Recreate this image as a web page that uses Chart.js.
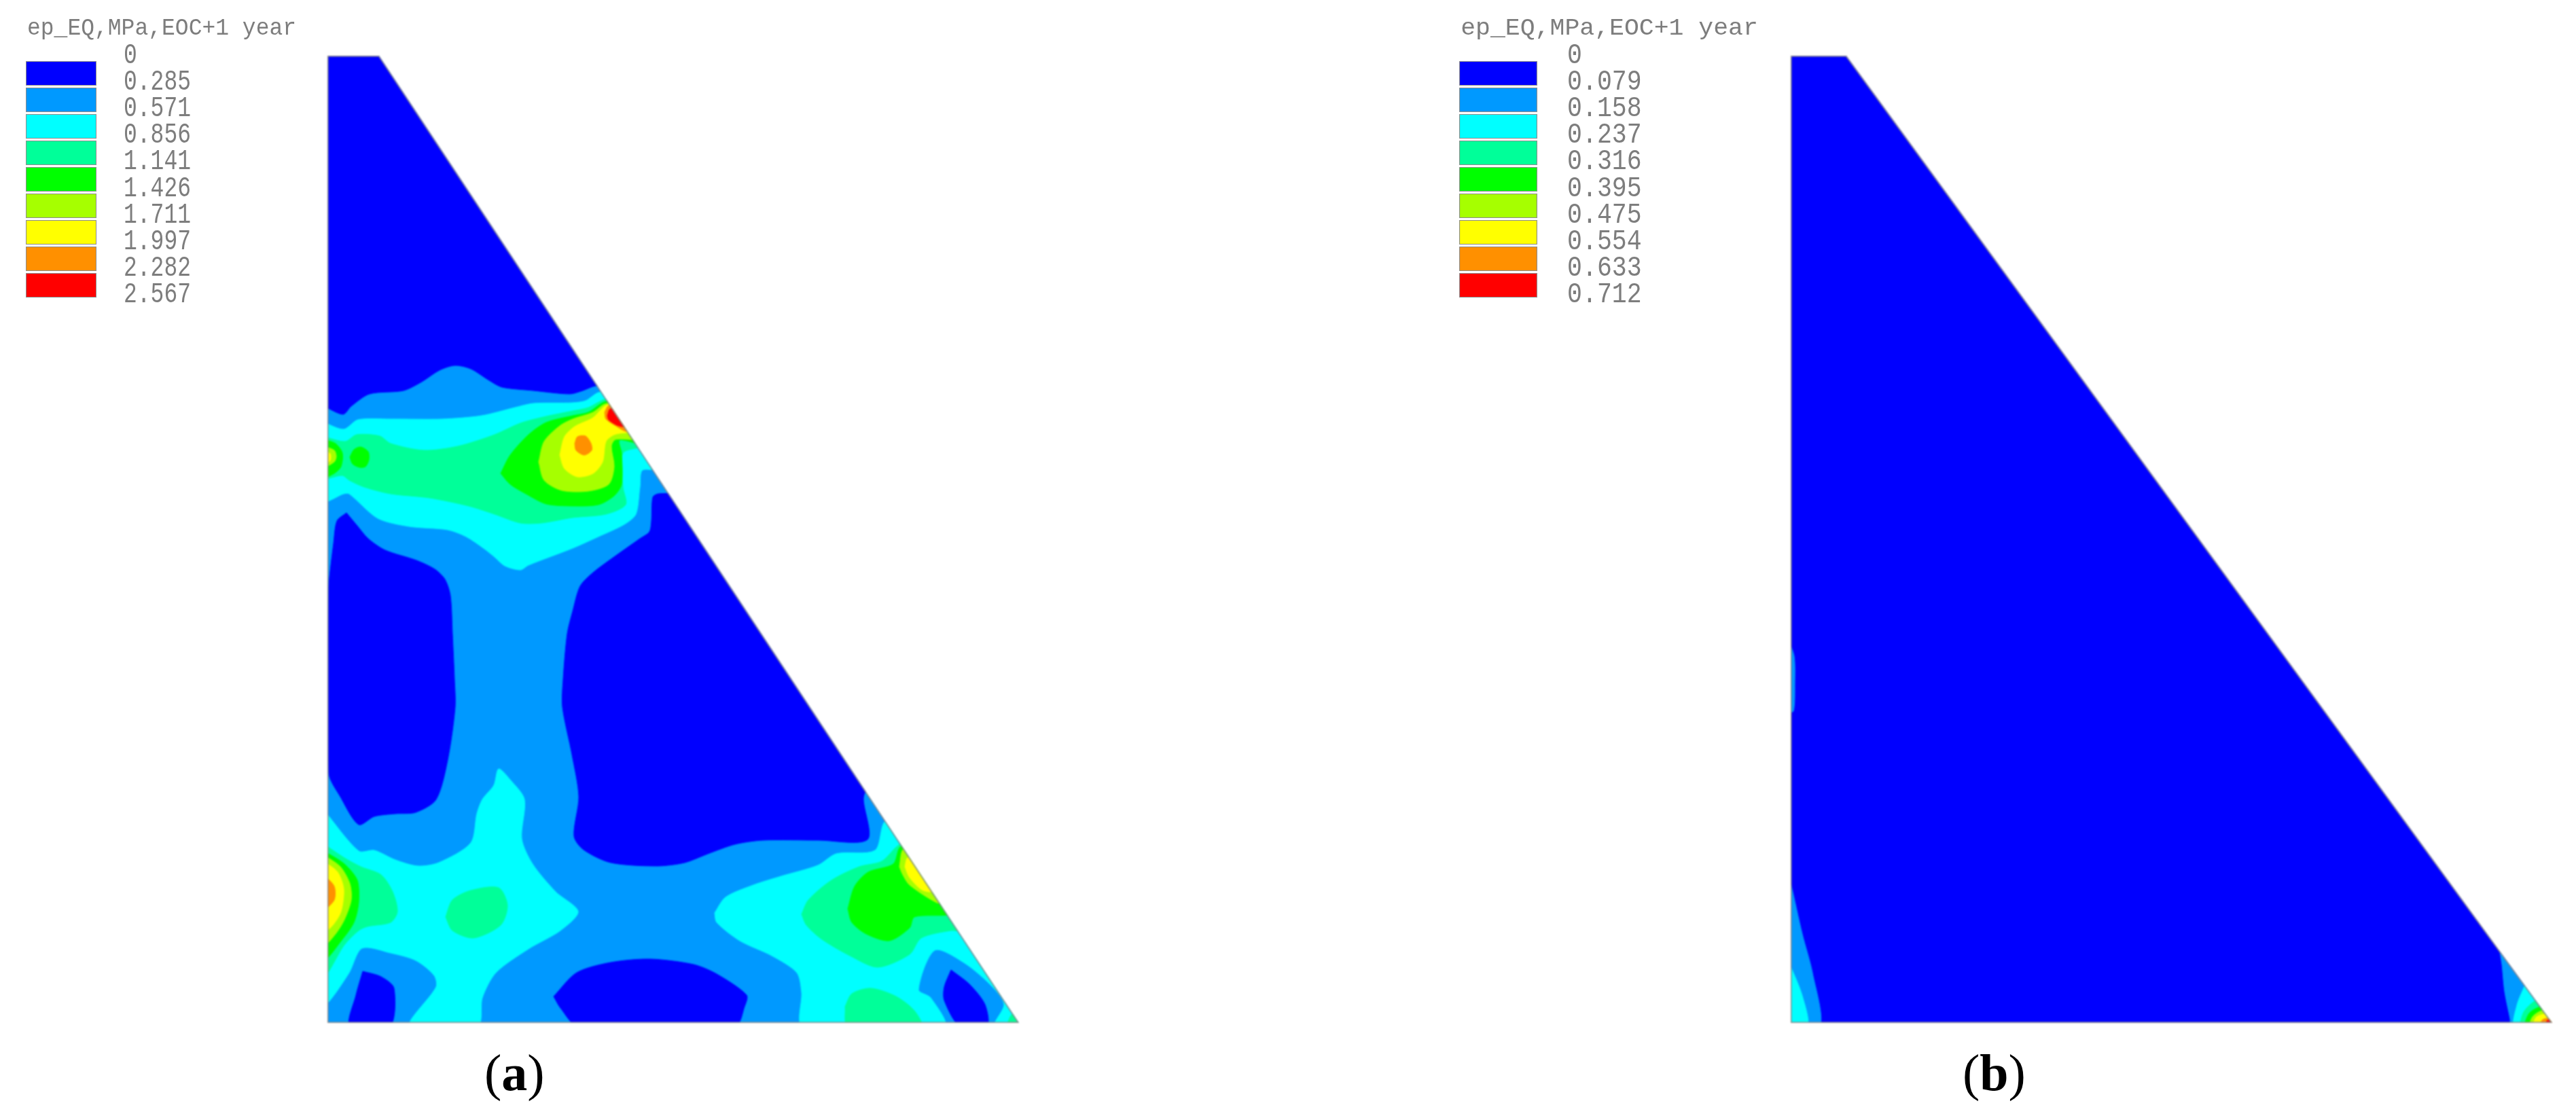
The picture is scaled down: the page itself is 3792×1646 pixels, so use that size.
<!DOCTYPE html>
<html>
<head>
<meta charset="utf-8">
<title>ep_EQ contours</title>
<script src="https://cdn.jsdelivr.net/npm/chart.js@4"></script>
<style>
  html, body { margin: 0; padding: 0; background: #fff; width: 3792px; height: 1646px; overflow: hidden; }
  canvas { position: absolute; top: 0; filter: blur(0.9px); }
  #chartA { left: 0; }
  #chartB { left: 1896px; }
  .key { position: absolute; top: 0; left: 0; width: 600px; height: 470px; transform-origin: 0 0; filter: blur(0.5px); color: #7d7d7d; font-family: "Liberation Mono", monospace; font-size: 33px; }
  #keyA { left: 38px; }
  #keyB { left: 2148px; transform: scaleX(1.105); }
  .keyTitle { position: absolute; left: 2px; top: 22px; line-height: 40px; white-space: pre; transform: scaleY(1.08); transform-origin: 0 50%; }
  .swatch { position: absolute; left: 0; width: 104px; height: 36px; box-sizing: border-box; border: 1.5px solid #8c8c8c; }
  .keyLabel { position: absolute; left: 144px; line-height: 40px; white-space: pre; transform: scaleY(1.28); transform-origin: 0 50%; }
  .caption { position: absolute; top: 1536px; font-family: "Liberation Serif", serif; font-size: 76px; line-height: 86px; color: #000; }
  #capA { left: 713px; }
  #capB { left: 2889px; }
</style>
</head>
<body>
<canvas id="chartA" width="1896" height="1646"></canvas>
<canvas id="chartB" width="1896" height="1646"></canvas>
<div class="key" id="keyA"></div>
<div class="key" id="keyB"></div>
<div class="caption" id="capA">(<b>a</b>)</div>
<div class="caption" id="capB">(<b>b</b>)</div>
<script>
var keyTitle = "ep_EQ,MPa,EOC+1 year";
var keyLabelsA = ["0", "0.285", "0.571", "0.856", "1.141", "1.426", "1.711", "1.997", "2.282", "2.567"];
var keyLabelsB = ["0", "0.079", "0.158", "0.237", "0.316", "0.395", "0.475", "0.554", "0.633", "0.712"];
var levelColors = ["#0000ff", "#0099ff", "#00ffff", "#00ff99", "#00ff00", "#a6ff00", "#ffff00", "#ff9000", "#ff0000"];

// model outlines, units are arbitrary, origin at lower left
var outlineA = [[0, 0], [0, 1424], [76, 1424], [1018, 0], [0, 0]];
var outlineB = [[0, 0], [0, 1424], [82, 1424], [1121, 0], [0, 0]];

// panel (a), contours per level
var aBlueTop = [[-5, 908], [23, 896], [35, 908], [62, 926], [112, 931], [139, 944], [165, 961], [188, 968], [211, 963], [238, 946], [257, 936], [303, 931], [357, 926], [376, 931], [395, 938], [430, 938], [100, 1440], [-5, 1440], [-5, 908]];
var aBlueLeft = [[28, 751], [43, 733], [60, 713], [85, 696], [131, 681], [158, 668], [173, 653], [181, 629], [184, 573], [187, 506], [188, 465], [177, 387], [160, 329], [130, 310], [100, 308], [69, 304], [46, 292], [19, 333], [2, 368], [2, 640], [3, 656], [9, 706], [14, 739], [28, 751]];
var aBlueCentre = [[515, 779], [487, 779], [479, 774], [477, 739], [474, 723], [460, 713], [426, 689], [391, 663], [372, 643], [361, 606], [353, 573], [347, 506], [346, 465], [360, 395], [370, 333], [363, 275], [377, 255], [417, 236], [485, 231], [526, 236], [560, 249], [600, 263], [641, 269], [722, 269], [795, 270], [789, 329], [793, 341], [815, 341], [515, 779]];
var aBlueFoot1 = [[52, 76], [79, 68], [98, 51], [92, -5], [33, -5], [42, 41], [52, 76]];
var aBlueFoot2 = [[333, 39], [367, 74], [417, 89], [475, 94], [539, 86], [573, 72], [617, 41], [614, 24], [600, -5], [369, -5], [343, 22], [333, 39]];
var aBlueFoot3 = [[918, 78], [945, 57], [968, 27], [971, -5], [931, -5], [908, 33], [908, 53], [918, 78]];

var aCyanUpper = [[-5, 884], [24, 874], [45, 888], [93, 889], [169, 889], [227, 894], [276, 906], [303, 912], [361, 913], [380, 916], [399, 928], [425, 928], [505, 814], [464, 814], [460, 789], [454, 749], [437, 734], [399, 716], [361, 699], [296, 674], [284, 667], [261, 673], [246, 686], [231, 698], [204, 716], [177, 726], [120, 731], [74, 743], [32, 779], [24, 779], [-5, 769], [-5, 884]];
var aCyanLowerLeft = [[-5, 313], [46, 253], [69, 254], [100, 240], [133, 231], [164, 236], [211, 265], [220, 308], [228, 329], [245, 350], [252, 374], [269, 358], [290, 329], [286, 271], [302, 234], [336, 193], [369, 164], [343, 136], [296, 109], [248, 74], [228, 37], [221, -5], [121, -5], [160, 53], [157, 70], [130, 92], [93, 103], [51, 110], [32, 74], [2, 31], [-5, 31], [-5, 313]];
var aCyanLowerRight = [[570, 162], [586, 185], [627, 203], [668, 216], [722, 232], [749, 249], [806, 254], [820, 296], [840, 296], [1040, -5], [982, -5], [996, 27], [979, 53], [938, 88], [894, 107], [870, 49], [888, 37], [908, -5], [700, -5], [698, 45], [691, 74], [654, 99], [607, 121], [573, 148], [570, 162]];

var aSpringUpper = [[-5, 863], [26, 856], [43, 866], [77, 864], [93, 853], [142, 843], [192, 849], [246, 866], [284, 883], [322, 893], [361, 901], [384, 906], [408, 918], [430, 918], [470, 853], [435, 839], [435, 789], [439, 763], [410, 749], [361, 744], [315, 736], [284, 736], [246, 749], [208, 761], [150, 773], [93, 779], [54, 789], [32, 799], [22, 806], [-5, 803], [-5, 863]];
var aSpringLeft = [[-5, 263], [25, 243], [49, 230], [79, 218], [96, 193], [103, 164], [93, 148], [59, 142], [46, 136], [25, 115], [-5, 70], [-5, 263]];
var aSpringIsle = [[174, 156], [184, 181], [211, 195], [252, 199], [265, 173], [255, 144], [215, 125], [184, 136], [174, 156]];
var aSpringRight = [[698, 160], [708, 181], [742, 210], [783, 230], [816, 238], [843, 263], [870, 263], [940, 136], [918, 136], [874, 125], [857, 101], [810, 82], [769, 99], [728, 123], [705, 144], [698, 160]];
var aSpringFoot = [[762, 24], [772, 43], [800, 51], [837, 39], [864, 18], [874, -5], [766, -5], [762, 24]];
var aSpringTip = [[999, -5], [1009, 14], [1030, 14], [1030, -5], [999, -5]];

var aGreenBlob = [[33, 833], [39, 844], [49, 848], [60, 841], [61, 829], [56, 819], [47, 818], [37, 823], [33, 833]];
var aGreenEdge = [[-5, 859], [12, 853], [22, 839], [20, 819], [10, 809], [-5, 804], [-5, 859]];
var aGreenMain = [[255, 809], [269, 836], [296, 866], [322, 884], [361, 894], [384, 899], [407, 914], [425, 914], [465, 853], [430, 858], [433, 839], [433, 793], [422, 776], [399, 763], [361, 761], [322, 764], [292, 779], [269, 793], [255, 809]];
var aGreenLeft = [[-5, 253], [25, 234], [44, 210], [46, 177], [39, 148], [22, 123], [-5, 94], [-5, 253]];
var aGreenRight = [[766, 168], [776, 201], [796, 222], [833, 234], [843, 259], [860, 259], [925, 164], [864, 156], [857, 140], [827, 121], [793, 131], [772, 148], [766, 168]];

var aLimeEdge = [[-5, 849], [10, 843], [13, 834], [10, 826], [-5, 819], [-5, 849]];
var aLimeMain = [[311, 826], [319, 856], [342, 879], [361, 889], [391, 899], [408, 911], [425, 911], [460, 861], [424, 859], [418, 849], [422, 819], [414, 793], [384, 783], [345, 784], [319, 799], [311, 826]];
var aLimeLeft = [[-5, 247], [19, 230], [33, 205], [35, 181], [25, 152], [12, 131], [-5, 115], [-5, 247]];
var aLimeRight = [[842, 230], [847, 255], [860, 255], [910, 177], [897, 177], [857, 203], [847, 218], [842, 230]];

var aYellowMain = [[342, 836], [349, 863], [364, 878], [391, 891], [410, 909], [428, 909], [455, 869], [439, 869], [422, 866], [410, 856], [405, 826], [391, 809], [368, 804], [349, 816], [342, 836]];
var aYellowLeft = [[-5, 238], [15, 222], [24, 197], [20, 164], [8, 144], [-5, 134], [-5, 238]];
var aYellowEdge = [[-5, 843], [4, 838], [4, 828], [-5, 822], [-5, 843]];
var aYellowRight = [[850, 230], [854, 243], [870, 243], [900, 195], [877, 195], [857, 214], [850, 230]];

var aOrangeBlob = [[364, 853], [368, 863], [380, 864], [388, 853], [389, 843], [378, 836], [366, 843], [364, 853]];
var aOrangeHyp = [[408, 899], [414, 909], [430, 909], [455, 871], [439, 871], [426, 878], [410, 889], [408, 899]];
var aOrangeLeft = [[-5, 218], [10, 201], [10, 181], [-5, 168], [-5, 218]];
var aRedHyp = [[412, 894], [416, 904], [430, 904], [450, 878], [433, 878], [424, 881], [414, 888], [412, 894]];

// panel (b), only the two corners and a sliver on the left edge carry anything
var bBlueSliver = [[-5, 568], [5, 540], [6, 500], [4, 459], [-5, 459], [-5, 568]];
var bBlueLeft = [[-5, 224], [0, 206], [17, 131], [32, 74], [43, -5], [-5, -5], [-5, 224]];
var bCyanLeft = [[-5, 92], [0, 83], [17, 40], [25, -5], [-5, -5], [-5, 92]];
var bBlueRight = [[1044, 104], [1047, 86], [1051, 46], [1059, 6], [1061, -5], [1140, -5], [1060, 104], [1044, 104]];
var bCyanRight = [[1095, 56], [1082, 56], [1078, 49], [1069, 26], [1066, -5], [1140, -5], [1095, 56]];
var bSpringRight = [[1115, 33], [1097, 33], [1079, 16], [1076, -5], [1140, -5], [1115, 33]];
var bGreenRight = [[1125, 24], [1104, 24], [1087, 14], [1082, -5], [1140, -5], [1125, 24]];
var bLimeRight = [[1130, 18], [1106, 18], [1092, 9], [1089, -5], [1140, -5], [1130, 18]];
var bYellowRight = [[1135, 13], [1109, 13], [1097, 8], [1094, -5], [1140, -5], [1135, 13]];
var bOrangeRight = [[1135, 7], [1114, 7], [1106, 4], [1104, -5], [1140, -5], [1135, 7]];
var bRedRight = [[1135, 4], [1114, 4], [1112, -5], [1135, -5], [1135, 4]];

// [level, contour] in paint order
var regionsA = [
  [0, aBlueTop], [0, aBlueLeft], [0, aBlueCentre], [0, aBlueFoot1], [0, aBlueFoot2], [0, aBlueFoot3],
  [2, aCyanUpper], [2, aCyanLowerLeft], [2, aCyanLowerRight],
  [3, aSpringUpper], [3, aSpringLeft], [3, aSpringIsle], [3, aSpringRight], [3, aSpringFoot], [3, aSpringTip],
  [4, aGreenBlob], [4, aGreenEdge], [4, aGreenMain], [4, aGreenLeft], [4, aGreenRight],
  [5, aLimeEdge], [5, aLimeMain], [5, aLimeLeft], [5, aLimeRight],
  [6, aYellowMain], [6, aYellowLeft], [6, aYellowEdge], [6, aYellowRight],
  [7, aOrangeBlob], [7, aOrangeHyp], [7, aOrangeLeft],
  [8, aRedHyp]
];
var regionsB = [
  [1, bBlueSliver], [1, bBlueLeft], [1, bBlueRight],
  [2, bCyanLeft], [2, bCyanRight],
  [3, bSpringRight], [4, bGreenRight], [5, bLimeRight], [6, bYellowRight], [7, bOrangeRight], [8, bRedRight]
];

function toPoints(list) {
  return list.map(function (p) { return { x: p[0], y: p[1] }; });
}

function polygonDataset(list, color, tension) {
  return {
    data: toPoints(list),
    showLine: true,
    fill: "shape",
    backgroundColor: color,
    borderColor: color,
    borderWidth: 1,
    pointRadius: 0,
    tension: tension
  };
}

// keeps the contours inside the plate outline
function outlineClip(outline) {
  return {
    id: "outlineClip",
    beforeDatasetsDraw: function (chart) {
      var c = chart.ctx, sx = chart.scales.x, sy = chart.scales.y;
      c.save();
      c.beginPath();
      outline.forEach(function (p, i) {
        var px = sx.getPixelForValue(p[0]), py = sy.getPixelForValue(p[1]);
        if (i == 0) c.moveTo(px, py); else c.lineTo(px, py);
      });
      c.closePath();
      c.clip();
    },
    afterDatasetsDraw: function (chart) {
      chart.ctx.restore();
    }
  };
}

function makeChart(id, outline, baseLevel, regions, xMax, pad) {
  var sets = [polygonDataset(outline, levelColors[baseLevel], 0)];
  regions.forEach(function (r) {
    sets.push(polygonDataset(r[1], levelColors[r[0]], 0.28));
  });
  sets.push({ data: toPoints(outline), showLine: true, fill: false, borderColor: "#8a8a8a", borderWidth: 3, pointRadius: 0, tension: 0 });
  // Chart.js paints the first dataset last
  sets.reverse();
  return new Chart(document.getElementById(id).getContext("2d"), {
    type: "scatter",
    data: { datasets: sets },
    options: {
      responsive: false,
      animation: false,
      devicePixelRatio: 1,
      layout: { padding: pad },
      plugins: { legend: { display: false }, tooltip: { enabled: false } },
      scales: {
        x: { type: "linear", min: 0, max: xMax, display: false },
        y: { type: "linear", min: 0, max: 1424, display: false }
      }
    },
    plugins: [outlineClip(outline)]
  });
}

function buildKey(id, labels) {
  var box = document.getElementById(id);
  var title = document.createElement("div");
  title.className = "keyTitle";
  title.textContent = keyTitle;
  box.appendChild(title);
  levelColors.forEach(function (color, i) {
    var s = document.createElement("div");
    s.className = "swatch";
    s.style.top = (90 + i * 39) + "px";
    s.style.background = color;
    box.appendChild(s);
  });
  labels.forEach(function (text, i) {
    var l = document.createElement("div");
    l.className = "keyLabel";
    l.style.top = (63 + i * 39.1) + "px";
    l.textContent = text;
    box.appendChild(l);
  });
}

makeChart("chartA", outlineA, 1, regionsA, 1018, { left: 482, right: 396, top: 82, bottom: 140 });
makeChart("chartB", outlineB, 0, regionsB, 1121, { left: 740, right: 35, top: 82, bottom: 140 });
buildKey("keyA", keyLabelsA);
buildKey("keyB", keyLabelsB);
</script>
</body>
</html>
